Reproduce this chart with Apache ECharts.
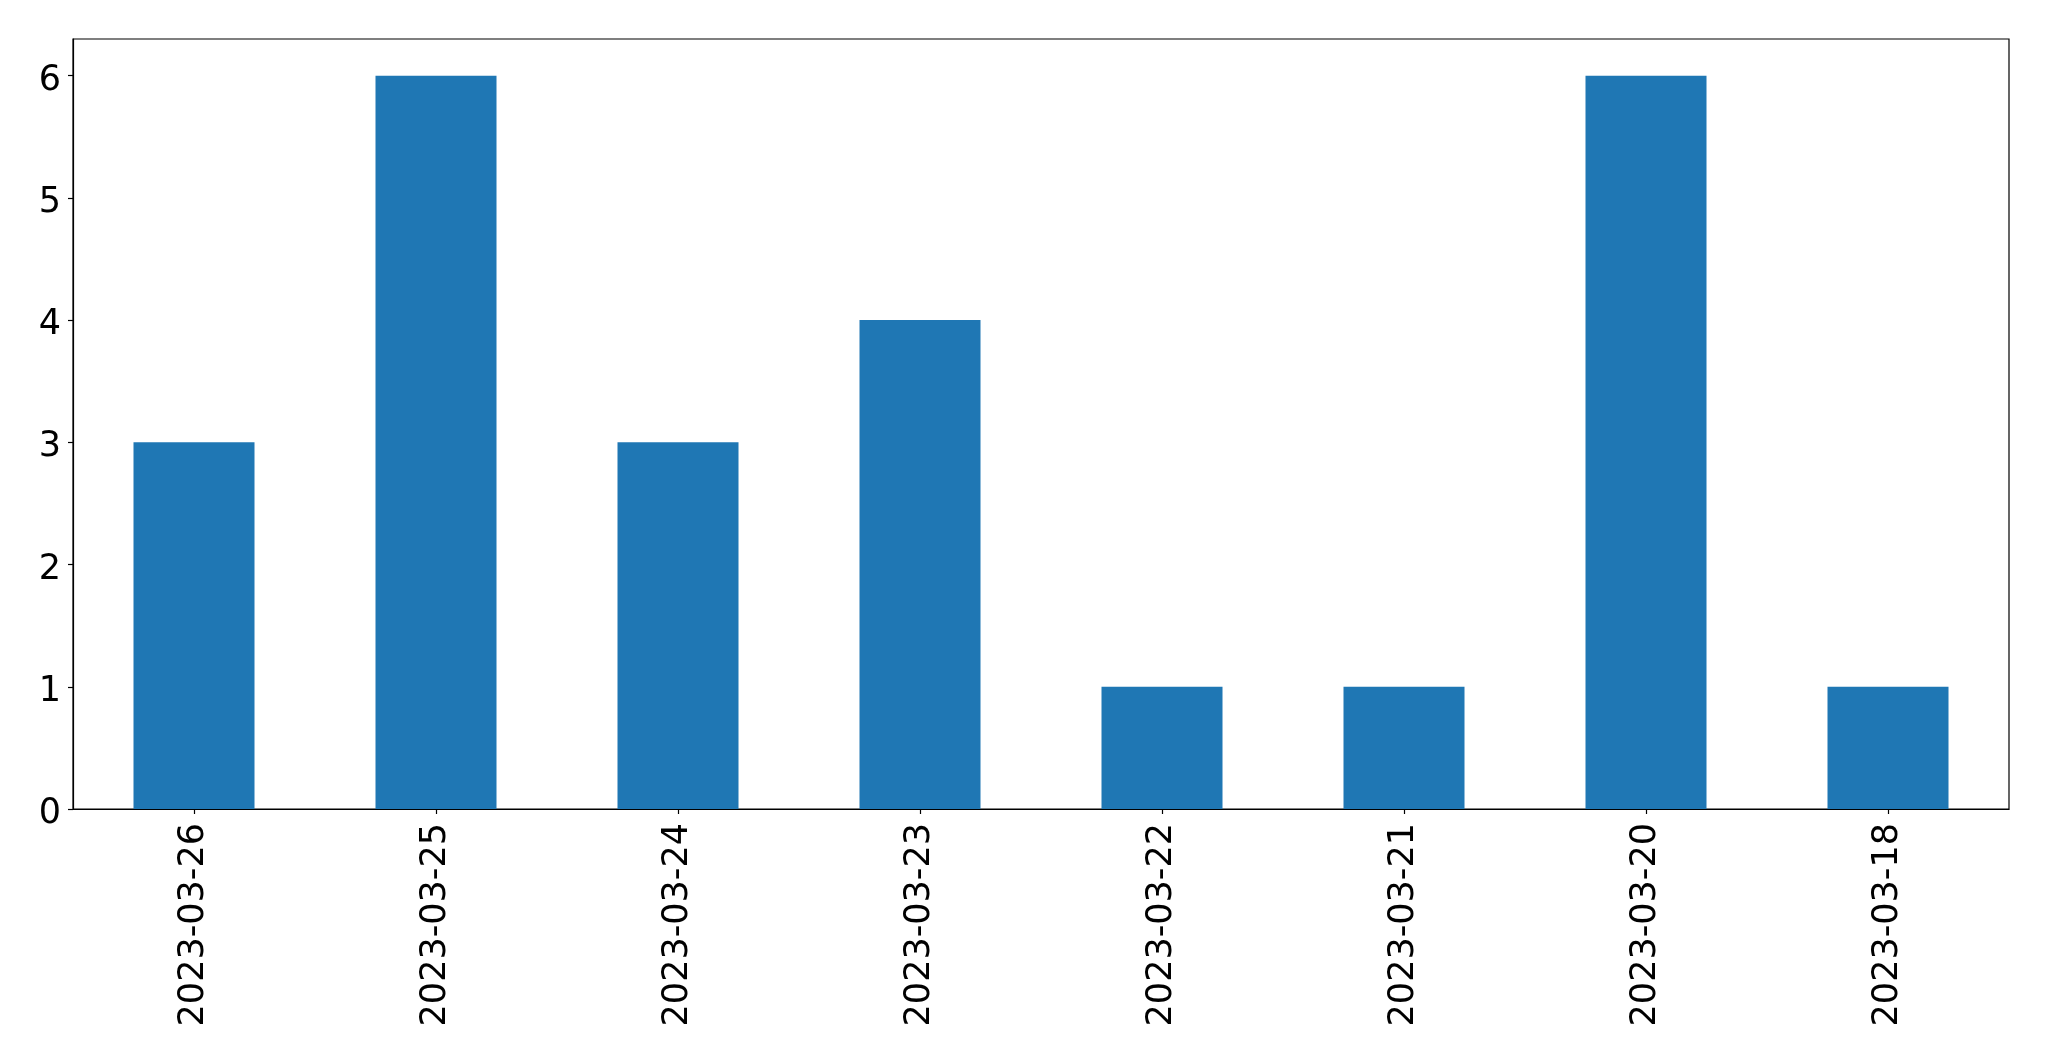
<!DOCTYPE html>
<html>
<head>
<meta charset="utf-8">
<script src="https://cdn.jsdelivr.net/npm/echarts@6/dist/echarts.min.js"></script>
<style>html,body{margin:0;padding:0;background:#fff;}#c{width:2049px;height:1061px;}</style>
</head>
<body>
<div id="c"></div>
<script>
const categories = ['2023-03-26','2023-03-25','2023-03-24','2023-03-23','2023-03-22','2023-03-21','2023-03-20','2023-03-18'];
const counts = [3, 6, 3, 4, 1, 1, 6, 1];
const yTicks = [0, 1, 2, 3, 4, 5, 6];

const chart = echarts.init(document.getElementById('c'), null, {renderer: 'canvas'});
chart.setOption({
  animation: false,
  grid: {left: 73, right: 40, top: 39, bottom: 252, show: true, borderColor: '#000', borderWidth: 1.2, backgroundColor: 'transparent'},
  xAxis: {
    type: 'category',
    data: categories,
    boundaryGap: true,
    axisLine: {show: true, lineStyle: {color: '#000', width: 1.2}},
    axisTick: {show: true, alignWithLabel: true, length: 5, lineStyle: {color: '#000', width: 1.2}},
    axisLabel: {rotate: 90, margin: 14, fontFamily: 'DejaVu Sans', fontSize: 35, color: '#000'},
    splitLine: {show: false}
  },
  yAxis: {
    type: 'value',
    min: 0,
    max: 6.3,
    interval: 1,
    axisLine: {show: true, lineStyle: {color: '#000', width: 1.2}},
    axisTick: {show: true, length: 5, customValues: yTicks, lineStyle: {color: '#000', width: 1.2}},
    axisLabel: {
      margin: 12, fontFamily: 'DejaVu Sans', fontSize: 35, color: '#000', customValues: yTicks,
      formatter: v => '{a|' + v + '}',
      rich: {a: {fontFamily: 'DejaVu Sans', fontSize: 35, color: '#000', padding: [10, 0, 0, 0]}}
    },
    splitLine: {show: false}
  },
  series: [{
    type: 'bar',
    data: counts,
    barWidth: '50%',
    itemStyle: {color: '#1f77b4'}
  }]
});
</script>
</body>
</html>
